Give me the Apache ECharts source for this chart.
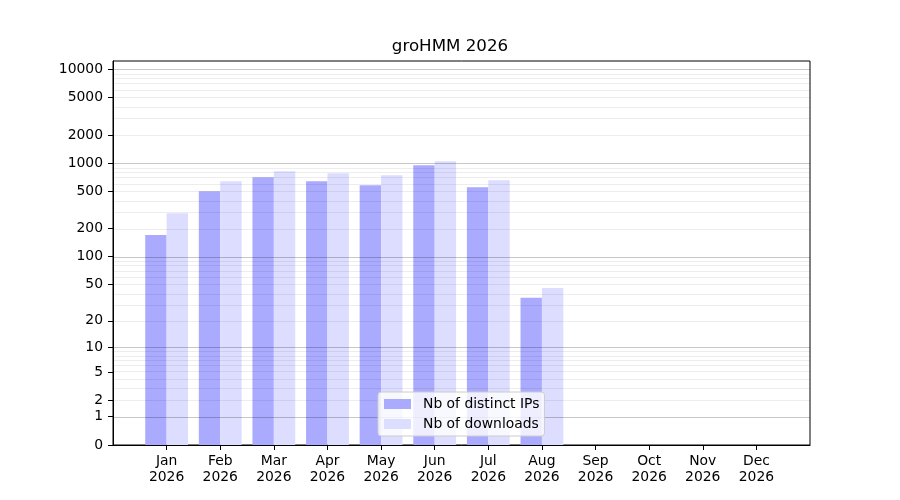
<!DOCTYPE html>
<html>
<head>
<meta charset="utf-8">
<title>groHMM 2026</title>
<script src="https://cdn.jsdelivr.net/npm/echarts@6/dist/echarts.min.js"></script>
<style>
  html, body { margin: 0; padding: 0; background: #fff; }
  #chart { width: 900px; height: 500px; }
</style>
</head>
<body>
<div id="chart"></div>
<script>
// months on a 0..13 axis, bars at 1..12
const months = ['Jan', 'Feb', 'Mar', 'Apr', 'May', 'Jun', 'Jul', 'Aug', 'Sep', 'Oct', 'Nov', 'Dec']
const year = '2026'
const monthPos = [1, 2, 3, 4, 5, 6, 7, 8, 9, 10, 11, 12]
const distinctIPs = [171, 503, 709, 643, 582, 951, 555, 36]
const downloads = [293, 643, 822, 782, 745, 1050, 659, 46]

// y axis is log10(n + 1)
const yTickLabels = [0, 1, 2, 5, 10, 20, 50, 100, 200, 500, 1000, 2000, 5000, 10000]
const majorGrid = [1, 10, 100, 1000, 10000]
const minorGrid = [
  2, 3, 4, 5, 6, 7, 8, 9,
  20, 30, 40, 50, 60, 70, 80, 90,
  200, 300, 400, 500, 600, 700, 800, 900,
  2000, 3000, 4000, 5000, 6000, 7000, 8000, 9000
]

const toY = v => Math.log10(v + 1)
const fromY = y => Math.round(Math.pow(10, y) - 1)

function showDownloadChart(dom) {
  const ipData = []
  const dlData = []
  distinctIPs.forEach((item, index) => {
    ipData.push([monthPos[index], toY(item)])
    dlData.push([monthPos[index], toY(downloads[index])])
  })

  const gridLine = (values, color) => ({
    silent: true,
    symbol: ['none', 'none'],
    animation: false,
    label: { show: false },
    lineStyle: { color: color, width: 1, type: 'solid' },
    emphasis: { disabled: true },
    data: values.map(v => ({ yAxis: toY(v) }))
  })

  const option = {
    animation: false,
    textStyle: { fontFamily: 'DejaVu Sans' },
    title: {
      text: 'groHMM ' + year,
      left: 'center',
      top: 38,
      padding: 0,
      textStyle: { fontSize: 16.7, fontWeight: 'normal', color: '#000', fontFamily: 'DejaVu Sans' }
    },
    legend: {
      data: ['Nb of distinct IPs', 'Nb of downloads'],
      orient: 'vertical',
      left: 378,
      top: 392,
      padding: [5, 5, 5, 6],
      itemWidth: 27,
      itemHeight: 10,
      itemGap: 6,
      backgroundColor: 'rgba(255,255,255,0.8)',
      borderColor: '#cccccc',
      borderWidth: 1,
      borderRadius: 3,
      z: 10,
      icon: 'rect',
      textStyle: { fontSize: 13.9, color: '#000', fontFamily: 'DejaVu Sans', padding: [0, 0, 0, 7] }
    },
    grid: {
      left: 113,
      right: 90,
      top: 61,
      bottom: 55,
      show: true,
      borderColor: '#000',
      borderWidth: 1,
      backgroundColor: 'transparent'
    },
    xAxis: {
      type: 'value',
      min: 0,
      max: 13,
      splitLine: { show: false },
      axisLine: { lineStyle: { color: '#000', width: 1 } },
      axisTick: { customValues: monthPos, length: 5, lineStyle: { color: '#000' } },
      axisLabel: {
        customValues: monthPos,
        formatter: v => months[v - 1] + '\n' + year,
        fontSize: 13.9,
        lineHeight: 16,
        color: '#000',
        margin: 8
      }
    },
    yAxis: {
      type: 'value',
      min: 0,
      max: 4.088,
      splitLine: { show: false },
      axisLine: { show: true, lineStyle: { color: '#000', width: 1 } },
      axisTick: { show: true, customValues: yTickLabels.map(toY), length: 5, lineStyle: { color: '#000' } },
      axisLabel: {
        customValues: yTickLabels.map(toY),
        formatter: v => String(fromY(v)),
        fontSize: 13.9,
        color: '#000',
        margin: 10
      }
    },
    series: [
      {
        name: 'Nb of distinct IPs',
        type: 'bar',
        barWidth: 21.4,
        barGap: '0%',
        itemStyle: { color: '#aaaaff' },
        z: 2,
        data: ipData
      },
      {
        name: 'Nb of downloads',
        type: 'bar',
        barWidth: 21.4,
        barGap: '0%',
        itemStyle: { color: '#ddddff' },
        z: 2,
        data: dlData
      },
      {
        name: 'minor grid',
        type: 'line',
        data: [],
        z: 3,
        markLine: gridLine(minorGrid, 'rgba(0,0,0,0.07)')
      },
      {
        name: 'major grid',
        type: 'line',
        data: [],
        z: 3,
        markLine: gridLine(majorGrid, 'rgba(0,0,0,0.22)')
      }
    ]
  }
  const myChart = echarts.init(document.getElementById(dom))
  myChart.setOption(option)
}

showDownloadChart('chart')
</script>
</body>
</html>
